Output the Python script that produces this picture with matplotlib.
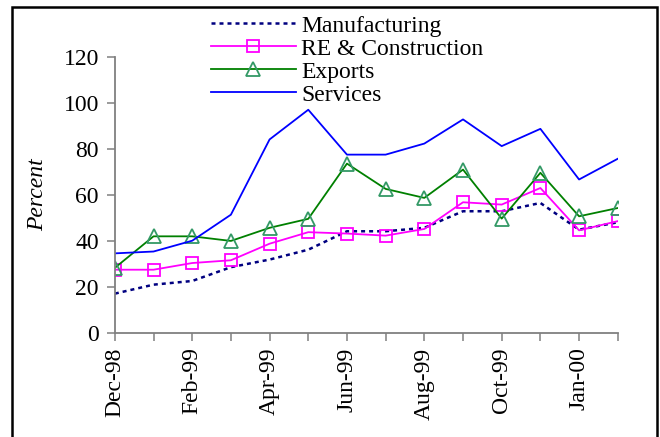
import matplotlib
matplotlib.use("Agg")
import matplotlib.pyplot as plt
from matplotlib.patches import Rectangle

plt.rcParams['font.family'] = ['Liberation Serif', 'DejaVu Serif']

months = ["Dec-98", "Jan-99", "Feb-99", "Mar-99", "Apr-99", "May-99", "Jun-99",
          "Jul-99", "Aug-99", "Sep-99", "Oct-99", "Nov-99", "Jan-00", "Feb-00"]
shown_labels = ["Dec-98", "Feb-99", "Apr-99", "Jun-99", "Aug-99", "Oct-99", "Jan-00"]

manufacturing = [17.1, 21.0, 22.6, 28.6, 31.9, 36.2, 44.2, 44.2, 45.7, 52.9, 52.9, 56.5, 44.9, 48.1]
re_construction = [27.5, 27.5, 30.4, 31.6, 38.8, 43.8, 43.2, 42.3, 45.2, 56.8, 55.8, 63.0, 44.6, 48.6]
exports = [28.3, 42.0, 42.0, 40.0, 45.7, 49.6, 73.6, 62.6, 58.7, 71.0, 49.7, 69.6, 50.7, 54.3]
services = [34.6, 35.4, 40.1, 51.4, 84.1, 97.0, 77.5, 77.5, 82.3, 92.8, 81.2, 88.7, 66.7, 75.7]

x = list(range(len(months)))

fig = plt.figure(figsize=(6.6, 4.37), dpi=100)
ax = fig.add_axes([0.174, 0.238, 0.762, 0.632])

ax.plot(x, manufacturing, color="#000080", lw=1.8, linestyle=(0, (1.6, 1.6)),
        label="Manufacturing")
ax.plot(x, re_construction, color="#FF00FF", lw=1.3, marker="s", markersize=8.5,
        markerfacecolor="none", markeredgecolor="#FF00FF", markeredgewidth=1.3,
        label="RE & Construction")
ax.plot(x, exports, color="#008000", lw=1.3, marker="^", markersize=10,
        markerfacecolor="none", markeredgecolor="#339966", markeredgewidth=1.3,
        label="Exports")
ax.plot(x, services, color="#0000FF", lw=1.3, label="Services")

ax.set_xlim(0, len(months) - 1)
ax.set_ylim(0, 120)
ax.set_yticks(range(0, 121, 20))
ax.set_xticks(x)
ax.set_xticklabels([m if m in shown_labels else "" for m in months], rotation=90)

for side in ["top", "right"]:
    ax.spines[side].set_visible(False)
for side in ["left", "bottom"]:
    ax.spines[side].set_color("#808080")
    ax.spines[side].set_linewidth(1.3)
ax.tick_params(axis="both", direction="out", length=5.5, width=1.1, color="#808080",
               labelsize=17, pad=6)
ax.tick_params(axis="x", pad=5)

ax.set_ylabel("Percent", fontsize=17, fontstyle="italic", labelpad=11)

fig.legend(loc="upper left", bbox_to_anchor=(0.294, 1.003), frameon=False,
           fontsize=17, handlelength=3.6, handletextpad=0.25, labelspacing=0.06,
           borderpad=0.2)

fig.patches.append(Rectangle((0.0177, -0.05), 0.978, 1.033, transform=fig.transFigure,
                             fill=False, edgecolor="black", linewidth=1.8))

fig.savefig("out.png", dpi=100)
